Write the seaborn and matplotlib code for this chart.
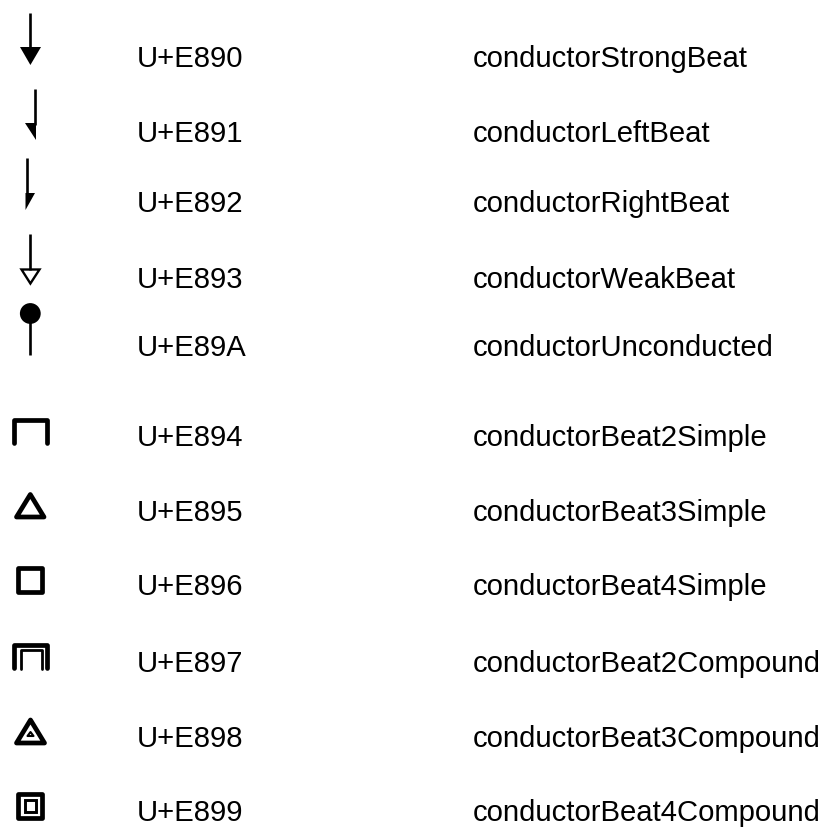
import seaborn as sns
import matplotlib.pyplot as plt
from matplotlib.patches import Polygon, Circle, Rectangle

codes = ["U+E890", "U+E891", "U+E892", "U+E893", "U+E89A", "U+E894",
         "U+E895", "U+E896", "U+E897", "U+E898", "U+E899"]
names = ["conductorStrongBeat", "conductorLeftBeat", "conductorRightBeat",
         "conductorWeakBeat", "conductorUnconducted", "conductorBeat2Simple",
         "conductorBeat3Simple", "conductorBeat4Simple", "conductorBeat2Compound",
         "conductorBeat3Compound", "conductorBeat4Compound"]
baselines = [67, 142, 212, 288, 356, 446, 521, 595, 672, 747, 821]

sns.set_theme(style="white")
plt.rcParams['font.family'] = ['Liberation Sans', 'DejaVu Sans']

fig = plt.figure(figsize=(8.26, 8.27), dpi=100)
ax = fig.add_axes([0, 0, 1, 1])
ax.set_xlim(0, 826)
ax.set_ylim(827, 0)
ax.axis("off")

LW = 1.9

def stem(x, y0, y1):
    ax.plot([x, x], [y0, y1], color="black", lw=LW, solid_capstyle="butt")

def poly(pts, fill=True, lw=0):
    ax.add_patch(Polygon(pts, closed=True, fc="black" if fill else "white", ec="black",
                         lw=lw, joinstyle="miter"))

def line(pts, lw=3.4, closed=False):
    ax.add_patch(Polygon(pts, closed=closed, fill=False, ec="black", lw=lw,
                         joinstyle="round", capstyle="round"))

# beat arrows
stem(30.3, 13, 50)
poly([(20, 47), (41, 47), (30.4, 65)])
stem(34.5, 89, 125)
poly([(25, 123), (35.5, 123), (35.5, 140)])
stem(26.5, 158, 195)
poly([(25.5, 193), (35, 193), (25.5, 210)])
stem(30.3, 234, 270)
poly([(21.5, 269.5), (39.5, 269.5), (30.4, 283.5)], fill=False, lw=1.7)
stem(30.3, 320, 355)
ax.add_patch(Circle((30.3, 313.5), 10.4, fc="black", ec="none"))

# simple beat patterns
line([(14, 442.5), (14, 419.5), (46.5, 419.5), (46.5, 442.5)])
line([(30.3, 494.5), (44, 517), (16.5, 517)], closed=True)
line([(18.2, 568.2), (42, 568.2), (42, 592), (18.2, 592)], closed=True)

# compound beat patterns
line([(14, 668), (14, 644.5), (46.5, 644.5), (46.5, 668)])
line([(20.5, 669), (20.5, 650), (41.5, 650), (41.5, 669)], lw=2.0)
line([(30.5, 720), (44.5, 743), (16.5, 743)], closed=True)
line([(30.5, 732), (33.5, 736), (27.5, 736)], lw=1.5, closed=True)
line([(18.2, 793.5), (42, 793.5), (42, 818), (18.2, 818)], closed=True)
ax.add_patch(Rectangle((24.5, 800), 11, 11.5, fill=False, ec="black", lw=2.1))

for code, name, y in zip(codes, names, baselines):
    ax.text(137, y, code, fontsize=21.1, va="baseline", ha="left", color="black")
    ax.text(473, y, name, fontsize=21.1, va="baseline", ha="left", color="black")

plt.savefig("out.png", dpi=100)
